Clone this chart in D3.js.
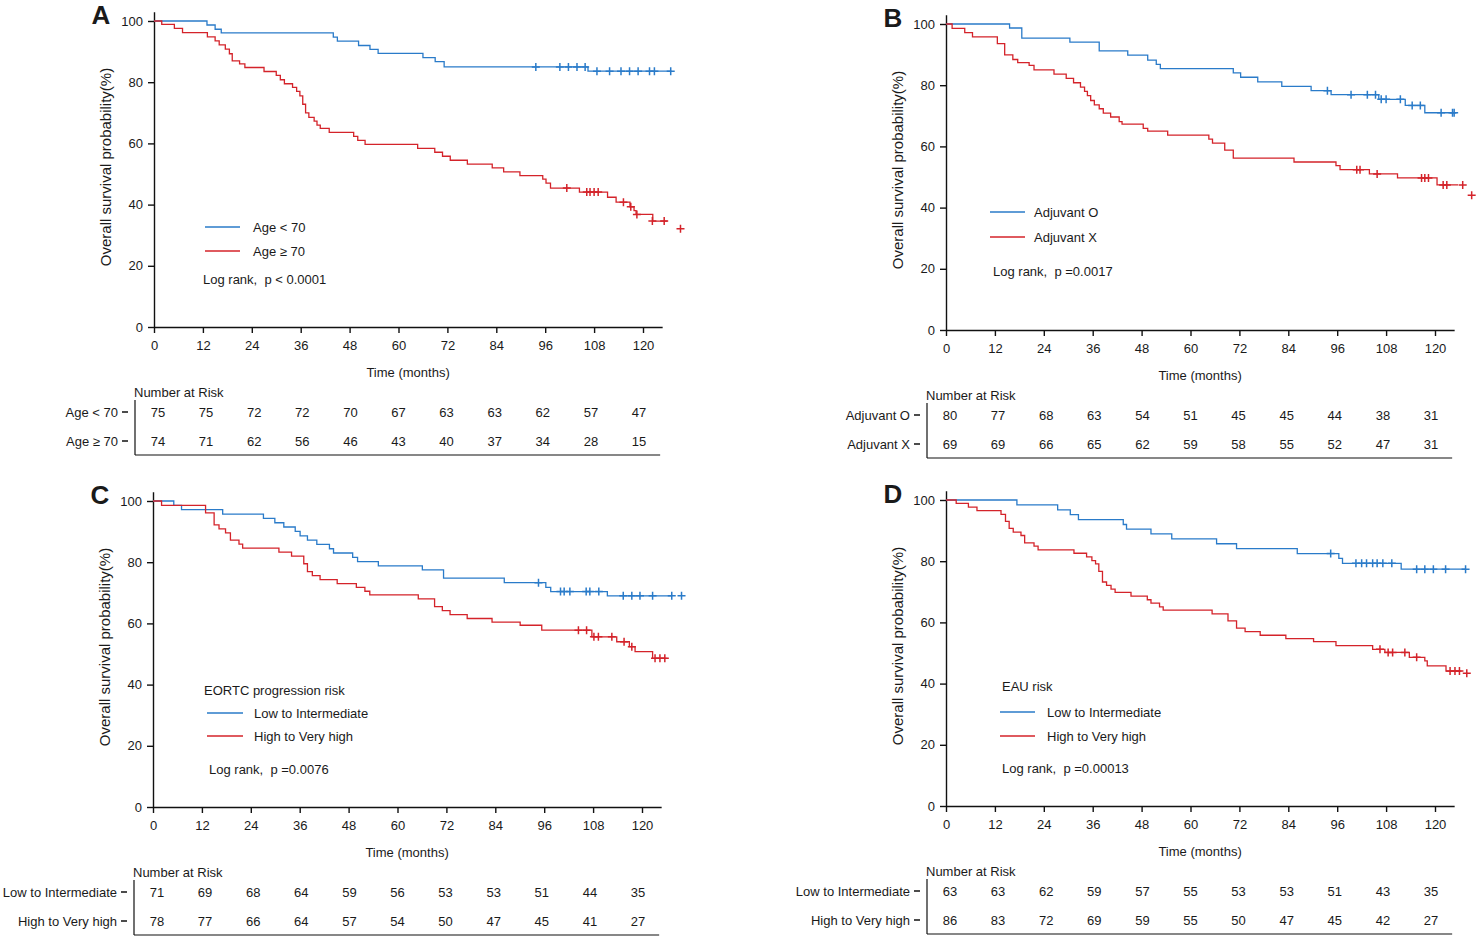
<!DOCTYPE html>
<html>
<head>
<meta charset="utf-8">
<script src="https://cdn.jsdelivr.net/npm/d3@7/dist/d3.min.js"></script>
<style>
  body { margin: 0; background: #fff; }
  text { font-family: "Liberation Sans", Arial, sans-serif; fill: #1a1a1a; }
</style>
</head>
<body>
<svg id="chart" width="1476" height="938"></svg>
<script>

// ---- data ----
var monthTicks = [0, 12, 24, 36, 48, 60, 72, 84, 96, 108, 120];
var survTicks = [0, 20, 40, 60, 80, 100];

// A : age
var aNames = ["Age < 70", "Age \u2265 70"];
var aBlueSteps = [[0,100],[13,98.7],[15,97.3],[16.5,96.1],[44,94.7],[45,93.4],[50.2,92.0],[53,90.7],[55,89.4],[66,88.0],[69,86.7],[71.2,85.0],[106.5,83.6],[127,83.6]];
var aBlueCensor = [[93.7,85.0],[99.6,85.0],[101.7,85.0],[103.8,85.0],[105.8,85.0],[108.7,83.6],[111.8,83.6],[114.6,83.6],[116.7,83.6],[118.8,83.6],[121.6,83.6],[122.8,83.6],[126.8,83.6]];
var aRedSteps = [[0,100],[1.9,98.9],[5,97.6],[7,96.2],[13.1,94.8],[15,93.5],[16,92.2],[17.5,90.8],[18.5,89.3],[19.2,87.0],[21,86.0],[22.3,84.8],[27,83.5],[30,82.2],[31,80.8],[32,79.5],[34,78.3],[35,77.0],[35.8,75.5],[36.5,72.8],[37.2,70.0],[38,68.5],[39.3,67.3],[40,66.0],[40.8,64.9],[43,63.6],[49,62.3],[50,61.0],[51.8,59.7],[64.7,58.4],[68.9,57.1],[70.8,55.8],[72.7,54.5],[76.9,53.2],[83,52.0],[85.8,50.7],[89.8,49.5],[95.4,48.3],[96.2,47.0],[97.3,45.4],[104.4,44.1],[111.3,42.4],[113.4,40.8],[116.8,39.3],[117.8,38.0],[118.3,36.8],[122.4,34.6],[126,34.6]];
var aRedCensor = [[101.3,45.4],[106.2,44.1],[107.0,44.1],[108.0,44.1],[109.0,44.1],[115.2,40.8],[117.0,39.3],[118.5,36.8],[122.3,34.6],[125.2,34.6],[129.2,32.1]];
var aRiskBlue = [75, 75, 72, 72, 70, 67, 63, 63, 62, 57, 47];
var aRiskRed = [74, 71, 62, 56, 46, 43, 40, 37, 34, 28, 15];

// B : adjuvant
var bNames = ["Adjuvant O", "Adjuvant X"];
var bBlueSteps = [[0,100],[15.6,98.7],[18.6,95.4],[30.4,94.1],[37.6,91.2],[44.6,89.8],[49.5,88.2],[51.6,86.8],[52.6,85.4],[70.5,84.0],[72.3,82.6],[76.5,81.1],[82.4,79.6],[89.6,78.2],[94.5,76.9],[106.2,75.4],[112.7,73.4],[117.5,71.0],[125,71.0]];
var bBlueCensor = [[93.6,78.2],[99.4,76.9],[103.4,76.9],[105.4,76.9],[106.8,75.4],[108.0,75.4],[111.5,75.4],[114.4,73.4],[116.4,73.4],[121.5,71.0],[124.3,71.0],[124.7,71.0]];
var bRedSteps = [[0,100],[1.5,98.6],[4.6,97.2],[6.5,95.8],[12.6,93.6],[14.4,89.9],[16.4,88.4],[17.6,87.4],[20.4,86.5],[21.6,85.0],[26.5,83.6],[29.5,82.2],[31.3,80.8],[33,79.4],[34,78.0],[34.7,76.6],[35.5,75.0],[36.4,73.6],[37.6,72.3],[38.6,70.9],[40.4,69.6],[42.5,68.1],[43.2,67.3],[48.4,65.9],[49.5,65.0],[54.4,63.7],[64.5,62.4],[65.4,61.1],[68.4,58.8],[70.5,56.2],[85.4,54.9],[95.7,53.7],[96.7,52.4],[103.9,51.0],[110.8,49.7],[120.5,47.4],[125.7,47.4]];
var bRedCensor = [[100.8,52.4],[101.6,52.4],[105.8,51.0],[116.7,49.7],[117.5,49.7],[118.4,49.7],[122.0,47.4],[122.9,47.4],[126.8,47.4],[129.0,44.0]];
var bRiskBlue = [80, 77, 68, 63, 54, 51, 45, 45, 44, 38, 31];
var bRiskRed = [69, 69, 66, 65, 62, 59, 58, 55, 52, 47, 31];

// C : EORTC progression risk
var cNames = ["Low to Intermediate", "High to Very high"];
var cBlueSteps = [[0,100],[5.1,98.6],[7,97.2],[17.1,95.7],[27.1,94.3],[29.9,92.9],[32.1,91.5],[34.9,90.1],[36.1,88.6],[37.9,87.2],[40.2,85.8],[43.3,84.4],[44.3,83.0],[49,81.6],[50.2,80.2],[55.3,78.8],[66.1,77.5],[71.3,74.8],[86.2,73.3],[96.4,71.8],[97.6,70.4],[111.5,69.0],[127.3,69.0]];
var cBlueCensor = [[94.6,73.3],[100.0,70.4],[100.9,70.4],[102.3,70.4],[106.3,70.4],[107.2,70.4],[109.4,70.4],[115.4,69.0],[117.5,69.0],[119.5,69.0],[122.6,69.0],[127.3,69.0],[129.7,69.0]];
var cRedSteps = [[0,100],[2.1,98.6],[12.9,96.1],[15,92.2],[16.2,90.9],[17.8,89.6],[19,87.2],[21.1,85.9],[22,84.6],[30.9,83.3],[34,82.0],[37,79.5],[37.9,76.9],[39.1,75.6],[41,74.3],[45.2,73.0],[49.9,71.8],[52,70.5],[53.2,69.3],[65.1,68.0],[69.1,65.5],[71,64.2],[72.9,62.9],[77.1,61.6],[83.2,60.4],[90.1,59.4],[95.4,57.8],[107.7,55.6],[113.8,54.0],[116.9,52.4],[118.3,50.8],[122.6,48.6],[126.2,48.6]];
var cRedCensor = [[104.4,57.8],[106.4,57.8],[108.2,55.6],[109.3,55.6],[112.6,55.6],[115.6,54.0],[117.5,52.4],[123.2,48.6],[124.4,48.6],[125.6,48.6]];
var cRiskBlue = [71, 69, 68, 64, 59, 56, 53, 53, 51, 44, 35];
var cRiskRed = [78, 77, 66, 64, 57, 54, 50, 47, 45, 41, 27];

// D : EAU risk
var dNames = ["Low to Intermediate", "High to Very high"];
var dBlueSteps = [[0,100],[17.4,98.4],[27.4,96.8],[30.5,95.2],[32.5,93.6],[43.5,92.0],[44.3,90.5],[50.3,88.9],[55.4,87.3],[66.4,85.7],[71.3,84.1],[86.2,82.5],[96.4,80.9],[97.3,79.3],[111.7,77.4],[127.5,77.4]];
var dBlueCensor = [[94.4,82.5],[100.6,79.3],[102.0,79.3],[103.2,79.3],[104.7,79.3],[105.8,79.3],[107.2,79.3],[109.4,79.3],[115.5,77.4],[117.5,77.4],[119.6,77.4],[122.6,77.4],[127.5,77.4]];
var dRedSteps = [[0,100],[2.5,98.9],[5.5,97.7],[7.6,96.5],[13.5,95.3],[14.6,93.0],[15.5,90.7],[16.5,89.5],[18.4,88.4],[19.3,86.0],[21.6,84.9],[22.6,83.7],[31.4,82.6],[34.5,81.4],[35.8,80.2],[36.7,79.1],[37.5,76.7],[38.4,73.2],[39.4,72.1],[40.5,70.9],[41.5,69.8],[45.4,68.6],[49.4,67.4],[50.3,66.3],[52.4,65.1],[53.3,64.0],[65.3,62.8],[69.2,60.5],[71.3,58.1],[73.4,57.0],[77.1,55.8],[83.4,54.7],[90.2,53.7],[95.7,52.4],[104.7,51.2],[107.7,50.2],[113.7,48.6],[117.5,47.4],[118.1,45.8],[122.7,44.1],[126.5,44.1]];
var dRedCensor = [[106.5,51.2],[108.5,50.2],[109.6,50.2],[112.6,50.2],[115.5,48.6],[123.7,44.1],[124.9,44.1],[126.0,44.1],[127.8,43.4]];
var dRiskBlue = [63, 63, 62, 59, 57, 55, 53, 53, 51, 43, 35];
var dRiskRed = [86, 83, 72, 69, 59, 55, 50, 47, 45, 42, 27];

// ---- layout / styling ----
var blue = "#2a7bc9", red = "#d4232a";
var pxPerMonth = 4.075, pxPerPct = 3.06, xMax = 124.7, yMax = 103;

var panels = [
  { letter: "A", x0: 154, yBot: 327, names: aNames,
    steps: [aBlueSteps, aRedSteps], censor: [aBlueCensor, aRedCensor], risk: [aRiskBlue, aRiskRed],
    title: null, p: "Log rank,  p < 0.0001",
    leg: { lx1: 51, lx2: 86, tx: 99, y1: -100, y2: -76, px: 49, py: -48 } },
  { letter: "B", x0: 946, yBot: 330, names: bNames,
    steps: [bBlueSteps, bRedSteps], censor: [bBlueCensor, bRedCensor], risk: [bRiskBlue, bRiskRed],
    title: null, p: "Log rank,  p =0.0017",
    leg: { lx1: 44, lx2: 79, tx: 88, y1: -118, y2: -93, px: 47, py: -59 } },
  { letter: "C", x0: 153, yBot: 807, names: cNames,
    steps: [cBlueSteps, cRedSteps], censor: [cBlueCensor, cRedCensor], risk: [cRiskBlue, cRiskRed],
    title: "EORTC progression risk", p: "Log rank,  p =0.0076",
    leg: { ttx: 51, tty: -117, lx1: 54, lx2: 90, tx: 101, y1: -94, y2: -71, px: 56, py: -38 } },
  { letter: "D", x0: 946, yBot: 806, names: dNames,
    steps: [dBlueSteps, dRedSteps], censor: [dBlueCensor, dRedCensor], risk: [dRiskBlue, dRiskRed],
    title: "EAU risk", p: "Log rank,  p =0.00013",
    leg: { ttx: 56, tty: -120, lx1: 54, lx2: 89, tx: 101, y1: -94, y2: -70, px: 56, py: -38 } }
];

var svg = d3.select("#chart");
var colors = [blue, red];

panels.forEach(function(pn) {

  var x = d3.scaleLinear().domain([0, xMax]).range([pn.x0, pn.x0 + xMax * pxPerMonth]);
  var y = d3.scaleLinear().domain([0, yMax]).range([pn.yBot, pn.yBot - yMax * pxPerPct]);
  // risk table columns sit a little inside the axis ticks
  var xt = d3.scaleLinear().domain([0, 120]).range([x(0) + 4, x(120) - 4]);
  var g = svg.append("g");

  // axes
  var xAxis = g.append("g")
    .attr("transform", "translate(0," + pn.yBot + ")")
    .call(d3.axisBottom(x).tickValues(monthTicks).tickSize(6).tickSizeOuter(0).tickPadding(8));
  var yAxis = g.append("g")
    .attr("transform", "translate(" + pn.x0 + ",0)")
    .call(d3.axisLeft(y).tickValues(survTicks).tickSize(6).tickSizeOuter(0).tickPadding(5));
  [xAxis, yAxis].forEach(function(a) {
    a.selectAll("path, line").attr("stroke", "#111").attr("stroke-width", 1.4);
    a.selectAll("text").style("font-size", "13px").attr("fill", "#1a1a1a");
  });

  g.append("text")
    .attr("x", (x.range()[0] + x.range()[1]) / 2)
    .attr("y", pn.yBot + 45)
    .attr("dy", "0.35em")
    .style("text-anchor", "middle")
    .style("font-size", "13px")
    .text("Time (months)");

  g.append("text")
    .attr("transform", "translate(" + (pn.x0 - 48) + "," + (pn.yBot - 160) + ") rotate(-90)")
    .attr("dy", "0.35em")
    .style("text-anchor", "middle")
    .style("font-size", "15px")
    .text("Overall survival probability(%)");

  g.append("text")
    .attr("x", pn.x0 - 53)
    .attr("y", pn.yBot - 312)
    .attr("dy", "0.35em")
    .style("text-anchor", "middle")
    .style("font-size", "26px")
    .style("font-weight", "bold")
    .text(pn.letter);

  // curves
  var line = d3.line()
    .x(function(d) { return x(d[0]); })
    .y(function(d) { return y(d[1]); })
    .curve(d3.curveStepAfter);

  pn.steps.forEach(function(s, i) {
    g.append("path")
      .datum(s)
      .attr("d", line)
      .attr("fill", "none")
      .attr("stroke", colors[i])
      .attr("stroke-width", 1.3);

    g.selectAll(".cens" + i)
      .data(pn.censor[i])
      .enter().append("path")
        .attr("d", function(d) {
          var cx = x(d[0]), cy = y(d[1]);
          return "M" + (cx - 4) + "," + cy + "h8M" + cx + "," + (cy - 4) + "v8";
        })
        .attr("stroke", colors[i])
        .attr("stroke-width", 1.5)
        .attr("fill", "none");
  });

  // legend
  var L = pn.leg;
  if (pn.title) {
    g.append("text")
      .attr("x", pn.x0 + L.ttx).attr("y", pn.yBot + L.tty)
      .attr("dy", "0.35em").style("font-size", "13px")
      .text(pn.title);
  }
  [L.y1, L.y2].forEach(function(ly, i) {
    g.append("line")
      .attr("x1", pn.x0 + L.lx1).attr("x2", pn.x0 + L.lx2)
      .attr("y1", pn.yBot + ly).attr("y2", pn.yBot + ly)
      .attr("stroke", colors[i]).attr("stroke-width", 1.5);
    g.append("text")
      .attr("x", pn.x0 + L.tx).attr("y", pn.yBot + ly)
      .attr("dy", "0.35em").style("font-size", "13px")
      .text(pn.names[i]);
  });
  g.append("text")
    .attr("x", pn.x0 + L.px).attr("y", pn.yBot + L.py)
    .attr("dy", "0.35em").style("font-size", "13px")
    .style("white-space", "pre")
    .text(pn.p);

  // number at risk table
  var rows = [pn.yBot + 85, pn.yBot + 114];
  var tLeft = pn.x0 - 19, tRight = x(xMax) - 2, tBot = pn.yBot + 128;

  g.append("text")
    .attr("x", pn.x0 - 20).attr("y", pn.yBot + 65)
    .attr("dy", "0.35em").style("font-size", "13px")
    .text("Number at Risk");

  g.append("line")
    .attr("x1", tLeft).attr("x2", tLeft)
    .attr("y1", pn.yBot + 73).attr("y2", tBot)
    .attr("stroke", "#111").attr("stroke-width", 1.2);
  g.append("line")
    .attr("x1", tLeft).attr("x2", tRight)
    .attr("y1", tBot).attr("y2", tBot)
    .attr("stroke", "#111").attr("stroke-width", 1.2);

  pn.risk.forEach(function(r, i) {
    g.append("text")
      .attr("x", pn.x0 - 36).attr("y", rows[i])
      .attr("dy", "0.35em")
      .style("text-anchor", "end")
      .style("font-size", "13px")
      .text(pn.names[i]);
    g.append("line")
      .attr("x1", pn.x0 - 32).attr("x2", pn.x0 - 26)
      .attr("y1", rows[i]).attr("y2", rows[i])
      .attr("stroke", "#111").attr("stroke-width", 1.5);

    g.selectAll(".risk" + i)
      .data(r)
      .enter().append("text")
        .attr("x", function(d, j) { return xt(monthTicks[j]); })
        .attr("y", rows[i])
        .attr("dy", "0.35em")
        .style("text-anchor", "middle")
        .style("font-size", "13px")
        .text(function(d) { return d; });
  });
});

</script>
</body>
</html>
